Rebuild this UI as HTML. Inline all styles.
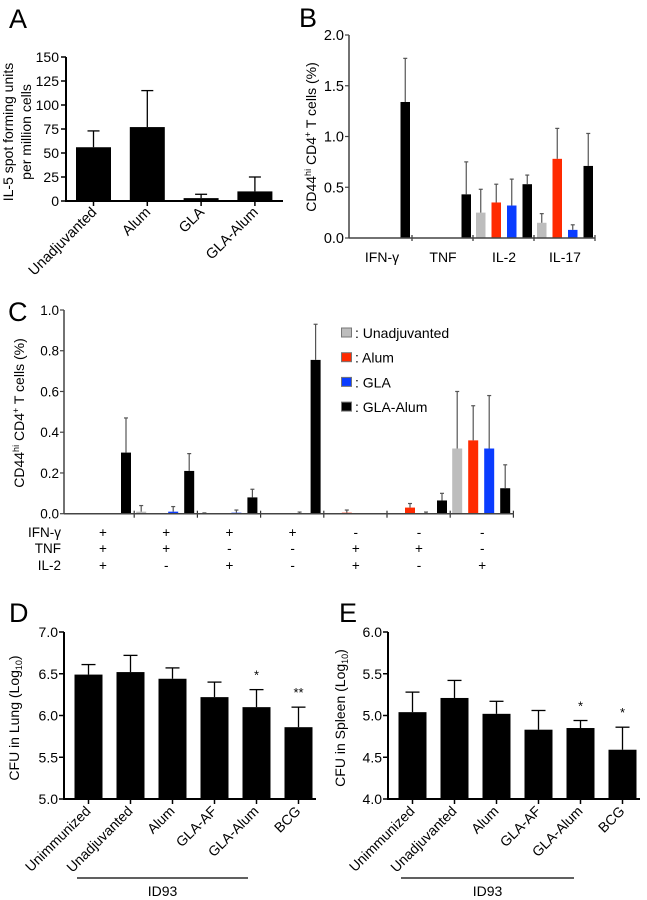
<!DOCTYPE html>
<html><head><meta charset="utf-8"><style>
html,body{margin:0;padding:0;background:#fff;}
svg{display:block;font-family:"Liberation Sans",Arial,sans-serif;}
</style></head><body>
<svg id="fig" width="647" height="900" viewBox="0 0 647 900" xmlns="http://www.w3.org/2000/svg">
<text x="9" y="28" font-size="27">A</text>
<text x="299" y="27" font-size="27">B</text>
<text x="8" y="321" font-size="27">C</text>
<text x="9" y="622" font-size="27">D</text>
<text x="339" y="622" font-size="27">E</text>
<text transform="translate(13,132) rotate(-90)" text-anchor="middle" font-size="14">IL-5 spot forming units</text>
<text transform="translate(31,132) rotate(-90)" text-anchor="middle" font-size="14">per million cells</text>
<text transform="translate(316,137) rotate(-90)" text-anchor="middle" font-size="14">CD44<tspan font-size="9" dy="-5">hi</tspan><tspan dy="5"> CD4</tspan><tspan font-size="9" dy="-5">+</tspan><tspan dy="5"> T cells (%)</tspan></text>
<text transform="translate(24,413) rotate(-90)" text-anchor="middle" font-size="14">CD44<tspan font-size="9" dy="-5">hi</tspan><tspan dy="5"> CD4</tspan><tspan font-size="9" dy="-5">+</tspan><tspan dy="5"> T cells (%)</tspan></text>
<text transform="translate(19,718) rotate(-90)" text-anchor="middle" font-size="14">CFU in Lung (Log<tspan font-size="9" dy="3">10</tspan><tspan dy="-3">)</tspan></text>
<text transform="translate(345,718) rotate(-90)" text-anchor="middle" font-size="14">CFU in Spleen (Log<tspan font-size="9" dy="3">10</tspan><tspan dy="-3">)</tspan></text>
</svg>
<script>
// Panel A data
const aCategories = ["Unadjuvanted", "Alum", "GLA", "GLA-Alum"];
const aValues = [56, 77, 3, 10];
const aErrors = [73, 115, 7, 25];
const aTicks = [0, 25, 50, 75, 100, 125, 150];
// Panel B data
const bGroups = ["IFN-\u03b3", "TNF", "IL-2", "IL-17"];
const bUnadj = [0, 0, 0.25, 0.15];
const bUnadjErr = [0, 0, 0.48, 0.24];
const bAlum = [0, 0, 0.35, 0.78];
const bAlumErr = [0, 0, 0.53, 1.08];
const bGla = [0, 0, 0.32, 0.08];
const bGlaErr = [0, 0, 0.58, 0.13];
const bGlaAlum = [1.34, 0.43, 0.53, 0.71];
const bGlaAlumErr = [1.77, 0.75, 0.62, 1.03];
const bTicks = ["0.0", "0.5", "1.0", "1.5", "2.0"];
// Panel C data
const cIfn = ["+", "+", "+", "+", "-", "-", "-"];
const cTnf = ["+", "+", "-", "-", "+", "+", "-"];
const cIl2 = ["+", "-", "+", "-", "+", "-", "+"];
const cUnadj = [0, 0.01, 0.003, 0, 0, 0, 0.32];
const cUnadjErr = [0, 0.04, 0.004, 0, 0, 0, 0.60];
const cAlum = [0, 0, 0, 0, 0.005, 0.03, 0.36];
const cAlumErr = [0, 0, 0, 0, 0.018, 0.05, 0.53];
const cGla = [0, 0.01, 0.005, 0.003, 0, 0.003, 0.32];
const cGlaErr = [0, 0.035, 0.018, 0.008, 0, 0.008, 0.58];
const cGlaAlum = [0.30, 0.21, 0.08, 0.755, 0, 0.065, 0.125];
const cGlaAlumErr = [0.47, 0.295, 0.12, 0.93, 0, 0.10, 0.24];
const cTicks = ["0.0", "0.2", "0.4", "0.6", "0.8", "1.0"];
const legendLabels = [": Unadjuvanted", ": Alum", ": GLA", ": GLA-Alum"];
// Panel D/E data
const deCategories = ["Unimmunized", "Unadjuvanted", "Alum", "GLA-AF", "GLA-Alum", "BCG"];
const dValues = [6.49, 6.52, 6.44, 6.22, 6.10, 5.86];
const dErrors = [6.61, 6.72, 6.57, 6.40, 6.31, 6.10];
const dStars = ["", "", "", "", "*", "**"];
const dTicks = ["5.0", "5.5", "6.0", "6.5", "7.0"];
const eValues = [5.04, 5.21, 5.02, 4.83, 4.85, 4.59];
const eErrors = [5.28, 5.42, 5.17, 5.06, 4.94, 4.86];
const eStars = ["", "", "", "", "*", "*"];
const eTicks = ["4.0", "4.5", "5.0", "5.5", "6.0"];

const NS = "http://www.w3.org/2000/svg";
const svg = document.getElementById("fig");
function mk(tag, attrs, name) {
  const el = document.createElementNS(NS, tag);
  for (const k in attrs) el.setAttribute(k, attrs[k]);
  
  
  svg.appendChild(el);
  return el;
}
function line(x1, y1, x2, y2, stroke, w, name) {
  return mk("line", {x1: x1, y1: y1, x2: x2, y2: y2, stroke: stroke, "stroke-width": w}, name);
}
function txt(x, y, s, size, anchor, name, extra) {
  const t = mk("text", Object.assign({x: x, y: y, "font-size": size, "text-anchor": anchor}, extra || {}), name);
  t.textContent = s;
  return t;
}
function errBar(cx, yTop, yBase, cap, color, w, name) {
  line(cx, yBase, cx, yTop, color, w, name);
  line(cx - cap, yTop, cx + cap, yTop, color, w, name + "-cap");
}

// ---------- Panel A ----------
(function () {
  const x0 = 66, xEnd = 283, yTop = 57, yBot = 201;
  const y = v => yBot - v / 150 * (yBot - yTop);
  const cx = i => 93.5 + i * 53.8;
  aCategories.forEach((c, i) => {
    mk("rect", {x: cx(i) - 17.5, y: y(aValues[i]), width: 35, height: yBot - y(aValues[i]), fill: "#000"}, "panel-a-bar-" + i);
    errBar(cx(i), y(aErrors[i]), y(aValues[i]), 6, "#000", 1.3, "panel-a-error-" + i);
    line(cx(i), yBot, cx(i), yBot + 5, "#000", 1.5, "panel-a-x-tick");
    txt(cx(i) + 4, yBot + 12, c, 14.5, "end", "panel-a-x-label", {transform: "rotate(-45 " + (cx(i) + 4) + " " + (yBot + 12) + ")"});
  });
  line(x0, yTop, x0, yBot + 1, "#000", 2, "panel-a-y-axis");
  line(x0 - 1, yBot, xEnd, yBot, "#000", 2, "panel-a-x-axis");
  aTicks.forEach(t => {
    line(x0 - 5, y(t), x0, y(t), "#000", 1.5, "panel-a-y-tick");
    txt(x0 - 7, y(t) + 5, String(t), 14, "end", "panel-a-y-tick-label");
  });
})();

// ---------- Panel B ----------
(function () {
  const x0 = 349, xEnd = 595, yTop = 35, yBot = 238;
  const y = v => yBot - v / 2 * (yBot - yTop);
  const gx = g => 351 + g * 61;
  const series = [[bUnadj, bUnadjErr, "#bdbdbd"], [bAlum, bAlumErr, "#ff2a00"], [bGla, bGlaErr, "#0a3cff"], [bGlaAlum, bGlaAlumErr, "#000"]];
  bGroups.forEach((g, gi) => {
    series.forEach((s, si) => {
      const v = s[0][gi];
      if (v <= 0) return;
      const bx = gx(gi) + 3 + si * 15.5;
      mk("rect", {x: bx, y: y(v), width: 9.5, height: yBot - y(v), fill: s[2]}, "panel-b-bar-" + gi + "-" + si);
      errBar(bx + 4.75, y(s[1][gi]), y(v), 2, "#555", 1.2, "panel-b-error-" + gi + "-" + si);
    });
    txt(gx(gi) + 31, 262, g, 14, "middle", "panel-b-x-label");
    line(gx(gi) + 61, yBot - 3, gx(gi) + 61, yBot + 3, "#333", 1.2, "panel-b-x-tick");
  });
  line(x0, yTop, x0, yBot, "#444", 1.5, "panel-b-y-axis");
  line(x0, yBot, xEnd, yBot, "#444", 1.5, "panel-b-x-axis");
  bTicks.forEach(t => {
    const v = parseFloat(t);
    line(x0 - 4, y(v), x0, y(v), "#444", 1.2, "panel-b-y-tick");
    txt(x0 - 5, y(v) + 5, t, 14.5, "end", "panel-b-y-tick-label");
  });
})();

// ---------- Panel C ----------
(function () {
  const x0 = 64, xEnd = 514, yTop = 310, yBot = 513.7;
  const y = v => yBot - v * (yBot - yTop);
  const gx = g => 71 + g * 63.2;
  const series = [[cUnadj, cUnadjErr, "#bdbdbd"], [cAlum, cAlumErr, "#ff2a00"], [cGla, cGlaErr, "#0a3cff"], [cGlaAlum, cGlaAlumErr, "#000"]];
  cIfn.forEach((s0, gi) => {
    series.forEach((s, si) => {
      const v = s[0][gi];
      if (v <= 0) return;
      const bx = gx(gi) + 2 + si * 16;
      mk("rect", {x: bx, y: y(v), width: 10, height: yBot - y(v), fill: s[2]}, "panel-c-bar-" + gi + "-" + si);
      errBar(bx + 5, y(s[1][gi]), y(v), 2, "#555", 1.2, "panel-c-error-" + gi + "-" + si);
    });
    line(gx(gi) + 63.2, yBot - 3, gx(gi) + 63.2, yBot + 4, "#333", 1.2, "panel-c-x-tick");
    const cx = gx(gi) + 32;
    txt(cx, 537, cIfn[gi], 13.5, "middle", "panel-c-ifn-sign");
    txt(cx, 553, cTnf[gi], 13.5, "middle", "panel-c-tnf-sign");
    txt(cx, 570, cIl2[gi], 13.5, "middle", "panel-c-il2-sign");
  });
  txt(61, 537, "IFN-\u03b3", 13.5, "end", "panel-c-row-label-ifn");
  txt(61, 553, "TNF", 13.5, "end", "panel-c-row-label-tnf");
  txt(61, 570, "IL-2", 13.5, "end", "panel-c-row-label-il2");
  line(x0, yTop, x0, yBot, "#444", 1.5, "panel-c-y-axis");
  line(x0, yBot, xEnd, yBot, "#444", 1.5, "panel-c-x-axis");
  cTicks.forEach(t => {
    const v = parseFloat(t);
    line(x0 - 4, y(v), x0, y(v), "#444", 1.2, "panel-c-y-tick");
    txt(x0 - 5, y(v) + 5, t, 13.5, "end", "panel-c-y-tick-label");
  });
  const lc = ["#bdbdbd", "#ff2a00", "#0a3cff", "#000"];
  legendLabels.forEach((l, i) => {
    const ly = 333 + i * 24.7;
    mk("rect", {x: 341.5, y: ly - 5, width: 10, height: 9, fill: lc[i], stroke: "#777", "stroke-width": 1}, "legend-swatch-" + i);
    txt(355, ly + 5, l, 14, "start", "legend-entry-" + i);
  });
})();

// ---------- Panels D & E ----------
function cfuPanel(px, vals, errs, stars, ticks, lo, key, lineX1, lineX2) {
  const x0 = px, xEnd = px + 252, yTop = 632, yBot = 799;
  const y = v => yBot - (v - lo) / 2 * (yBot - yTop);
  const cx = i => px + 24.5 + i * 42;
  deCategories.forEach((c, i) => {
    mk("rect", {x: cx(i) - 14, y: y(vals[i]), width: 28, height: yBot - y(vals[i]), fill: "#000"}, key + "-bar-" + i);
    errBar(cx(i), y(errs[i]), y(vals[i]), 7, "#000", 1.3, key + "-error-" + i);
    line(cx(i), yBot, cx(i), yBot + 5, "#000", 1.5, key + "-x-tick");
    txt(cx(i) + 3, yBot + 13, c, 14, "end", key + "-x-label", {transform: "rotate(-45 " + (cx(i) + 3) + " " + (yBot + 13) + ")"});
    if (stars[i]) txt(cx(i), y(errs[i]) - 10, stars[i], 13, "middle", key + "-significance");
  });
  line(x0, yTop, x0, yBot + 1, "#000", 2, key + "-y-axis");
  line(x0 - 1, yBot, xEnd, yBot, "#000", 2, key + "-x-axis");
  ticks.forEach(t => {
    const v = parseFloat(t);
    line(x0 - 5, y(v), x0, y(v), "#000", 1.5, key + "-y-tick");
    txt(x0 - 6, y(v) + 5, t, 14, "end", key + "-y-tick-label");
  });
  line(lineX1, 878, lineX2, 878, "#000", 1.2, key + "-id93-bracket");
  txt((lineX1 + lineX2) / 2, 896, "ID93", 14, "middle", key + "-id93-label");
}
cfuPanel(64, dValues, dErrors, dStars, dTicks, 5, "panel-d", 77, 248);
cfuPanel(388, eValues, eErrors, eStars, eTicks, 4, "panel-e", 401, 574);
</script>
</body></html>
